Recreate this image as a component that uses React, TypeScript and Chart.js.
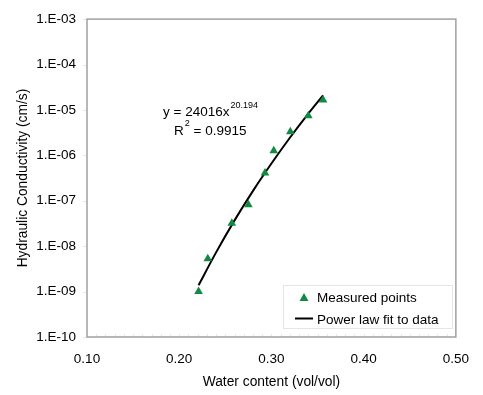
import React, { useEffect, useRef } from "react";
import { Chart, registerables } from "chart.js";

Chart.register(...registerables);

const waterContent = [0.221, 0.231, 0.257, 0.275, 0.293, 0.3025, 0.3205, 0.34, 0.356];
const measuredK = [1.0e-9, 5.3e-9, 3.2e-8, 8.2e-8, 4.1e-7, 1.26e-6, 3.3e-6, 7.4e-6, 1.66e-5];

// Power law fit line
const fitX = [0.221, 0.24, 0.26, 0.28, 0.3, 0.32, 0.34, 0.356];
const fitK = [1.38e-9, 7.3e-9, 3.7e-8, 1.65e-7, 6.6e-7, 2.44e-6, 8.3e-6, 2.1e-5];

const xTicks = [0.1, 0.2, 0.3, 0.4, 0.5];
const yTickExps = [-10, -9, -8, -7, -6, -5, -4, -3];

const seriesLabels = ["Measured points", "Power law fit to data"];
const eqText = "y = 24016x";
const eqExp = "20.194";
const r2Value = "0.9915";

const FONT = "'Liberation Sans', Arial, sans-serif";
const GREEN = "#128a43";

const overlayPlugin = {
  id: "overlay",
  beforeDatasetsDraw(chart: any) {
    const { ctx, chartArea: a } = chart;
    ctx.save();
    // faint minor ticks on x axis
    const xs = chart.scales.x;
    ctx.strokeStyle = "#e8e8e8";
    ctx.lineWidth = 1;
    for (let i = 1; i < 40; i++) {
      const v = 0.1 + i * 0.01;
      const px = Math.round(xs.getPixelForValue(v)) + 0.5;
      ctx.beginPath();
      ctx.moveTo(px, a.bottom);
      ctx.lineTo(px, a.bottom - 3);
      ctx.stroke();
    }
    // faint y major ticks outside
    const ys = chart.scales.y;
    yTickExps.forEach((e) => {
      const py = Math.round(ys.getPixelForValue(Math.pow(10, e))) + 0.5;
      ctx.beginPath();
      ctx.moveTo(a.left - 4, py);
      ctx.lineTo(a.left, py);
      ctx.stroke();
    });
    // frame
    ctx.strokeStyle = "#a0a0a0";
    ctx.lineWidth = 1.5;
    ctx.strokeRect(a.left, a.top, a.right - a.left, a.bottom - a.top);
    ctx.restore();
  },
  afterDatasetsDraw(chart: any) {
    const { ctx } = chart;
    ctx.save();
    ctx.fillStyle = "#000";
    ctx.textBaseline = "middle";
    ctx.textAlign = "left";
    // equation
    ctx.font = `13.5px ${FONT}`;
    ctx.fillText(eqText, 163, 112);
    const w1 = ctx.measureText(eqText).width;
    ctx.font = `9px ${FONT}`;
    ctx.fillText(eqExp, 163 + w1 + 1, 106);
    ctx.font = `13.5px ${FONT}`;
    ctx.fillText("R", 174, 131);
    const wr = ctx.measureText("R").width;
    ctx.font = `9px ${FONT}`;
    ctx.fillText("2", 174 + wr + 1, 124);
    const w2 = ctx.measureText("2").width;
    ctx.font = `13.5px ${FONT}`;
    ctx.fillText(" = " + r2Value, 174 + wr + 1 + w2, 131);

    // legend box
    ctx.fillStyle = "#fff";
    ctx.fillRect(283, 285, 170, 44);
    ctx.strokeStyle = "#e6e6e6";
    ctx.lineWidth = 1;
    ctx.strokeRect(283.5, 285.5, 169, 43);
    // marker
    ctx.fillStyle = GREEN;
    ctx.beginPath();
    ctx.moveTo(304, 293);
    ctx.lineTo(308.5, 301);
    ctx.lineTo(299.5, 301);
    ctx.closePath();
    ctx.fill();
    // line sample
    ctx.strokeStyle = "#000";
    ctx.lineWidth = 2;
    ctx.beginPath();
    ctx.moveTo(295, 318.5);
    ctx.lineTo(313, 318.5);
    ctx.stroke();
    ctx.fillStyle = "#000";
    ctx.font = `13.5px ${FONT}`;
    ctx.fillText(seriesLabels[0], 317, 298);
    ctx.fillText(seriesLabels[1], 317, 320);
    ctx.restore();
  },
};

export default function App() {
  const ref = useRef<HTMLCanvasElement | null>(null);
  useEffect(() => {
    if (!ref.current) return;
    const chart = new Chart(ref.current, {
      type: "scatter",
      data: {
        datasets: [
          {
            label: seriesLabels[1],
            data: fitX.map((x, i) => ({ x, y: fitK[i] })),
            showLine: true,
            borderColor: "#000",
            borderWidth: 2,
            pointRadius: 0,
            tension: 0.4,
            cubicInterpolationMode: "monotone",
            order: 2,
          },
          {
            label: seriesLabels[0],
            data: waterContent.map((x, i) => ({ x, y: measuredK[i] })),
            pointStyle: "triangle",
            pointRadius: 5,
            backgroundColor: GREEN,
            borderColor: GREEN,
            borderWidth: 0,
            showLine: false,
            order: 1,
          },
        ],
      },
      options: {
        responsive: false,
        animation: false,
        layout: { padding: { left: 0, right: 24, top: 14, bottom: 0 } },
        plugins: { legend: { display: false }, tooltip: { enabled: false } },
        scales: {
          x: {
            type: "linear",
            min: 0.1,
            max: 0.5,
            grid: { display: false, drawTicks: false, tickLength: 0 },
            border: { display: false },
            afterBuildTicks: (s: any) => {
              s.ticks = xTicks.map((v) => ({ value: v }));
            },
            afterFit: (s: any) => {
              s.height = 58;
            },
            ticks: {
              padding: 14,
              color: "#000",
              font: { family: FONT, size: 13.5 },
              callback: (v: any) => Number(v).toFixed(2),
              maxRotation: 0,
            },
            title: {
              display: true,
              text: "Water content (vol/vol)",
              color: "#000",
              font: { family: FONT, size: 13.8 },
              padding: { top: 0, bottom: 5 },
            },
          },
          y: {
            type: "logarithmic",
            min: 1e-10,
            max: 1e-3,
            grid: { display: false, drawTicks: false, tickLength: 0 },
            border: { display: false },
            afterBuildTicks: (s: any) => {
              s.ticks = yTickExps.map((e) => ({ value: Math.pow(10, e) }));
            },
            afterFit: (s: any) => {
              s.width = 87;
            },
            ticks: {
              padding: 11,
              color: "#000",
              font: { family: FONT, size: 13.5 },
              autoSkip: false,
              callback: (v: any) => {
                const e = Math.round(Math.log10(Number(v)));
                const abs = String(Math.abs(e)).padStart(2, "0");
                return `1.E${e < 0 ? "-" : "+"}${abs}`;
              },
            },
            title: {
              display: true,
              text: "Hydraulic Conductivity (cm/s)",
              color: "#000",
              font: { family: FONT, size: 13.8 },
              padding: { top: 15, bottom: 0 },
            },
          },
        },
      },
      plugins: [overlayPlugin],
    } as any);
    return () => chart.destroy();
  }, []);
  return (
    <div style={{ position: "fixed", left: 0, top: 0, width: 483, height: 395, background: "#fff" }}>
      <canvas ref={ref} width={483} height={395} style={{ width: 483, height: 395 }} />
    </div>
  );
}
